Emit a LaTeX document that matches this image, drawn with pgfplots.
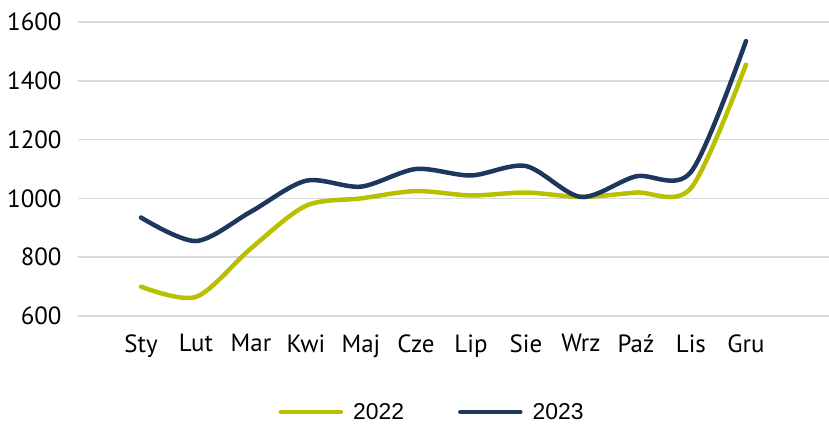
\documentclass[border=0pt]{standalone}
\usepackage{fontspec}
\setmainfont{PT Sans}
\newfontfamily\legfont{Liberation Sans}
\usepackage{pgfplots}
\pgfplotsset{compat=1.18}
\definecolor{olivec}{HTML}{B8C000}
\definecolor{navyc}{HTML}{1E375F}
\definecolor{gridc}{HTML}{D9D9D9}
\begin{document}
\begin{tikzpicture}
\useasboundingbox (-78bp,-108bp) rectangle (751bp,316bp);
\begin{axis}[
  at={(0,0)}, anchor=south west,
  scale only axis, width=751bp, height=294bp,
  xmin=-1.145, xmax=12.51,
  ymin=600, ymax=1600,
  ytick={600,800,...,1600},
  xtick={0,...,11},
  xticklabels={Sty,Lut,Mar,Kwi,Maj,Cze,Lip,Sie,Wrz,Paź,Lis,Gru},
  axis line style={draw=none},
  major tick length=0pt,
  ymajorgrids, xmajorgrids=false,
  grid style={gridc, line width=1.5bp},
  /pgf/number format/1000 sep={},
  /pgf/number format/assume math mode=true,
  tick label style={font=\fontsize{25}{29}\selectfont, black},
  yticklabel style={anchor=east, xshift=-13bp},
  xticklabel style={anchor=north, yshift=-15bp},
  legend columns=2,
  legend style={draw=none, fill=none, at={(0.4715,-0.327)}, anchor=center,
    font=\legfont\fontsize{23}{27}\selectfont,
    /tikz/every odd column/.append style={column sep=8bp},
    /tikz/every even column/.append style={column sep=52bp}},
  legend image code/.code={\draw[#1, line cap=round] (0bp,0bp) -- (60bp,0bp);},
]
\addplot[olivec, line width=4.5bp, smooth, line cap=round] coordinates {
(0,700) (1,665) (2,830) (3,975) (4,1000) (5,1025) (6,1010) (7,1020) (8,1005) (9,1020) (10,1035) (11,1455)};
\addlegendentry{2022}
\addplot[navyc, line width=4.5bp, smooth, line cap=round] coordinates {
(0,935) (1,855) (2,955) (3,1060) (4,1040) (5,1100) (6,1078) (7,1110) (8,1005) (9,1075) (10,1090) (11,1535)};
\addlegendentry{2023}
\end{axis}
\end{tikzpicture}
\end{document}
